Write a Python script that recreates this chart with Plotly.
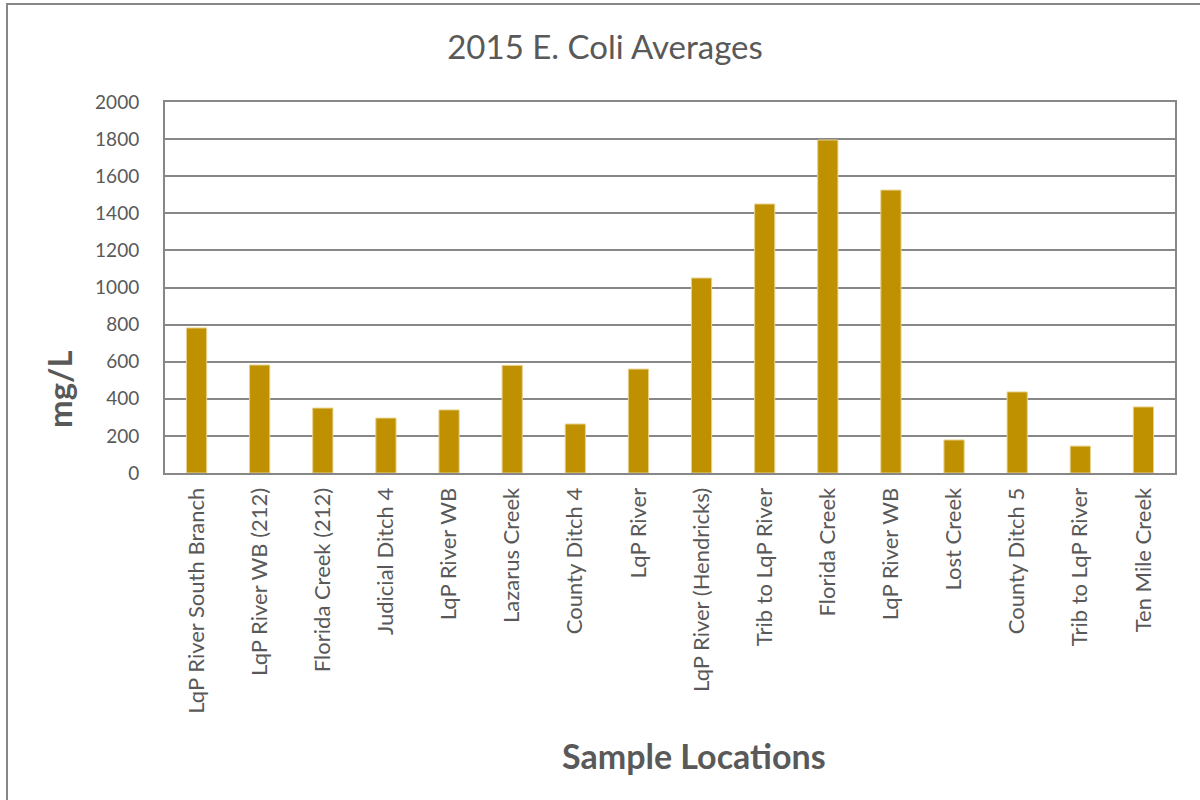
import plotly.graph_objects as go

# sample sites, in chart order
locations = [
    "LqP River South Branch", "LqP River WB (212)", "Florida Creek (212)",
    "Judicial Ditch 4", "LqP River WB", "Lazarus Creek", "County Ditch 4",
    "LqP River", "LqP River (Hendricks)", "Trib to LqP River", "Florida Creek",
    "LqP River WB", "Lost Creek", "County Ditch 5", "Trib to LqP River",
    "Ten Mile Creek",
]
ecoli_avg = [782, 582, 350, 296, 340, 580, 264, 560, 1051, 1450, 1795,
             1525, 178, 437, 145, 356]

# repeated names need unique category keys
x_keys = list(range(len(locations)))

font_family = "Lato, 'Open Sans', sans-serif"
grey = "#595959"
line_grey = "#878787"

W, H = 1200, 800
L, R, T, B = 165, 25, 102, 327
pw, ph = W - L - R, H - T - B


def px_x(x):
    return (x - L) / pw


def px_y(y):
    return (H - B - y) / ph


fig = go.Figure()
fig.add_trace(go.Bar(
    x=x_keys,
    y=ecoli_avg,
    marker=dict(color="#BF9000", line=dict(color="#E6D08C", width=1)),
    width=0.32,
))

fig.update_layout(
    width=W,
    height=H,
    paper_bgcolor="white",
    plot_bgcolor="white",
    margin=dict(l=L, r=R, t=T, b=B),
    showlegend=False,
    font=dict(family=font_family, color=grey),
    title=dict(
        text="2015 E. Coli Averages",
        x=px_x(605), xanchor="center", xref="paper",
        y=1 - 47 / H, yanchor="middle",
        font=dict(size=33, color=grey),
    ),
)

fig.update_xaxes(
    tickmode="array",
    tickvals=x_keys,
    ticktext=locations,
    tickangle=-90,
    tickfont=dict(size=22, color=grey),
    ticklabelstandoff=4,
    showline=True, linecolor=line_grey, linewidth=2, mirror=True,
    showgrid=False,
    range=[-0.5, len(locations) - 0.5],
)
fig.update_yaxes(
    range=[0, 2000],
    dtick=200,
    tickfont=dict(size=19, color=grey),
    ticklabelstandoff=20,
    showline=True, linecolor=line_grey, linewidth=2, mirror=True,
    gridcolor=line_grey, gridwidth=2,
    zeroline=False,
    ticks="", ticklen=0,
)

# axis titles placed like the original
fig.add_annotation(
    text="<b>Sample Locations</b>", xref="paper", yref="paper",
    x=px_x(694), y=px_y(755), showarrow=False,
    xanchor="center", yanchor="middle",
    font=dict(size=34, color=grey),
)
fig.add_annotation(
    text="<b>mg/L</b>", xref="paper", yref="paper",
    x=px_x(59), y=px_y(389), showarrow=False, textangle=-90,
    xanchor="center", yanchor="middle",
    font=dict(size=33, color=grey),
)

# outer chart-area border
fig.add_shape(
    type="rect", xref="paper", yref="paper",
    x0=px_x(7), x1=px_x(1230), y0=px_y(830), y1=px_y(4),
    line=dict(color=line_grey, width=2),
    layer="below",
)

fig.write_html("out.html", config={"displayModeBar": False},
               post_script="document.body.style.margin='0';")
